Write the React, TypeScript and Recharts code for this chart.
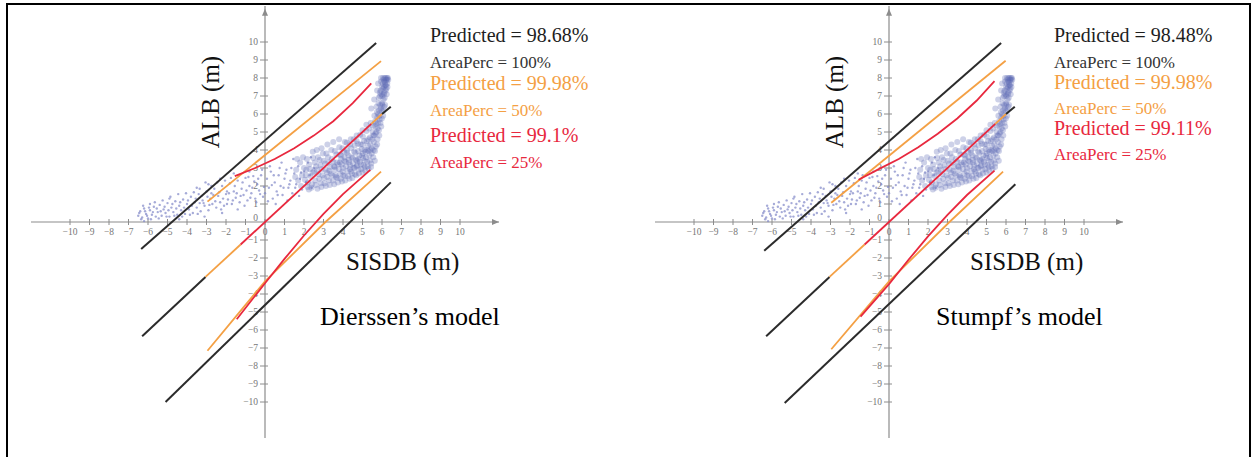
import React from "react"
import { ScatterChart, Scatter, XAxis, YAxis, ReferenceLine } from "recharts"

type P = [number, number]

// ── axis ticks ────────────────────────────────────────────────────────────────
const xTicks = [-10, -9, -8, -7, -6, -5, -4, -3, -2, -1, 0, 1, 2, 3, 4, 5, 6, 7, 8, 9, 10]
const yTicks = [10, 9, 8, 7, 6, 5, 4, 3, 2, 1, 0, -1, -2, -3, -4, -5, -6, -7, -8, -9, -10]

// ── point cloud (SISDB vs ALB) ───────────────────────────────────────────────
const cloudTail: P[] = [
  [-6.5, 0.35], [-6.4, 0.6], [-6.3, 0.25], [-6.2, 0.75], [-6.1, 0.45], [-6.0, 0.2], [-5.9, 0.65], [-5.8, 0.4],
  [-5.7, 0.85], [-5.6, 0.3], [-5.5, 0.55], [-5.4, 0.95], [-5.3, 0.35], [-5.2, 0.7], [-5.1, 0.5], [-5.0, 1.05],
  [-4.9, 0.3], [-4.8, 0.8], [-4.7, 0.55], [-4.6, 1.15], [-4.5, 0.4], [-4.4, 0.9], [-4.3, 0.65], [-4.2, 1.25],
  [-4.1, 0.45], [-4.0, 1.0], [-3.9, 0.7], [-3.8, 1.4], [-3.7, 0.5], [-3.6, 1.1], [-3.5, 0.8], [-3.4, 1.55],
  [-3.3, 0.6], [-3.2, 1.2], [-3.1, 0.9], [-3.0, 1.7], [-2.9, 0.65], [-2.8, 1.3], [-2.7, 1.0], [-2.6, 1.85],
  [-2.5, 0.8], [-2.4, 1.45], [-2.3, 1.1], [-2.2, 2.0], [-2.1, 0.9], [-2.0, 1.55], [-1.9, 1.25], [-1.8, 2.15],
  [-1.7, 1.0], [-1.6, 1.7], [-1.5, 1.35], [-1.4, 2.3], [-1.3, 1.1], [-1.2, 1.85], [-1.1, 1.5], [-1.0, 2.45],
  [-0.9, 1.2], [-0.8, 2.0], [-0.7, 1.6], [-0.6, 2.55], [-0.5, 1.3], [-0.4, 2.1], [-0.3, 1.75], [-0.2, 2.6],
  [-0.1, 1.4], [-5.9, 1.0], [-4.9, 1.3], [-3.5, 1.9], [-2.9, 2.1], [-2.3, 2.4], [-1.6, 2.7], [-0.8, 2.8],
  [-6.2, 0.05], [-4.4, 0.15], [-3.1, 0.3], [-2.2, 0.5], [-1.4, 0.7], [-3.35, 1.05], [-2.75, 1.6], [-1.95, 1.7],
  [-1.25, 1.45], [-0.65, 1.9], [0.0, 1.6], [0.1, 2.4], [0.2, 1.9], [0.3, 2.8], [0.4, 1.3], [0.5, 2.2],
  [0.6, 1.7], [0.7, 2.6], [0.8, 2.0], [0.9, 1.5], [1.0, 2.4], [1.1, 2.9], [1.2, 1.9], [1.3, 2.3],
  [1.4, 1.6], [1.5, 2.7], [1.6, 2.1], [1.7, 3.1], [1.8, 2.4], [1.9, 1.8], [2.0, 2.8], [2.1, 2.2],
  [2.2, 3.3], [2.3, 2.6], [2.4, 1.9], [2.5, 3.0], [0.25, 3.1], [0.85, 3.3], [1.45, 3.5], [0.55, 1.0],
  [1.15, 1.2], [1.75, 1.45], [2.35, 3.6],
  [-6.45, 0.5], [-6.35, 0.15], [-6.25, 0.9], [-6.15, 0.6], [-6.05, 0.35], [-5.95, 0.8], [-5.85, 0.15], [-5.75, 0.55],
  [-5.65, 1.1], [-5.55, 0.75], [-5.45, 0.2], [-5.35, 0.6], [-5.25, 1.2], [-5.15, 0.85], [-5.05, 0.3], [-4.95, 0.65],
  [-4.85, 1.4], [-4.75, 1.0], [-4.65, 0.35], [-4.55, 0.75], [-4.45, 1.55], [-4.35, 1.1], [-4.25, 0.3], [-4.15, 0.8],
  [-4.05, 1.6], [-3.95, 1.2], [-3.85, 0.4], [-3.75, 0.9], [-3.65, 1.65], [-3.55, 1.3], [-3.45, 0.45], [-3.35, 1.85],
  [-3.25, 1.45], [-3.15, 1.05], [-3.05, 2.2], [-2.95, 1.4], [-2.85, 0.95], [-2.75, 2.0], [-2.65, 1.5], [-2.55, 1.15],
  [-2.45, 2.2], [-2.35, 1.65], [-2.25, 0.7], [-2.15, 1.3], [-2.05, 2.3], [-1.95, 1.0], [-1.85, 1.6], [-1.75, 2.45],
  [-1.65, 1.2], [-1.55, 2.0], [-1.45, 1.6], [-1.35, 2.6], [-1.15, 2.2], [-1.05, 0.9], [-0.95, 1.75], [-0.85, 2.5],
  [-0.75, 1.35], [-0.55, 2.25], [-0.45, 1.1], [-0.35, 2.4], [-0.25, 1.55], [-0.15, 2.9], [-0.05, 1.95], [0.15, 1.15],
  [0.35, 2.05], [0.45, 2.6], [0.65, 1.5], [0.75, 3.0], [0.95, 1.9], [1.05, 2.7], [1.25, 2.1], [1.35, 3.0],
  [1.55, 1.9], [1.85, 2.75],
]

const cloudCore: P[] = [
  [2.05, 2.35], [2.12, 2.9], [2.18, 1.95], [2.26, 3.2], [2.33, 2.55], [2.41, 2.1], [2.47, 3.55], [2.52, 2.8],
  [2.58, 2.3], [2.63, 3.1], [2.69, 1.85], [2.74, 2.65], [2.8, 3.45], [2.86, 2.15], [2.91, 2.95], [2.97, 3.8],
  [3.03, 2.45], [3.08, 3.25], [3.12, 2.0], [3.18, 2.75], [3.23, 3.6], [3.29, 2.3], [3.34, 3.05], [3.4, 4.0],
  [3.45, 2.6], [3.5, 3.35], [3.55, 2.1], [3.6, 2.9], [3.66, 3.75], [3.71, 2.45], [3.76, 3.2], [3.81, 4.15],
  [3.86, 2.7], [3.9, 3.5], [3.95, 2.25], [4.0, 3.0], [4.05, 3.9], [4.1, 2.55], [4.14, 3.35], [4.19, 4.4],
  [4.24, 2.85], [4.28, 3.7], [4.33, 2.4], [4.37, 3.15], [4.42, 4.1], [4.46, 2.7], [4.5, 3.55], [4.55, 4.6],
  [4.59, 3.0], [4.63, 3.85], [4.68, 2.6], [4.72, 3.4], [4.76, 4.35], [4.8, 2.9], [4.84, 3.7], [4.88, 4.85],
  [4.92, 3.2], [4.96, 4.05], [5.0, 2.75], [5.04, 3.55], [5.08, 4.5], [5.12, 3.05], [5.16, 3.9], [5.2, 5.05],
  [5.24, 3.35], [5.28, 4.25], [5.31, 2.95], [5.35, 3.7], [5.38, 4.7], [5.42, 5.5], [5.45, 3.25], [5.48, 4.1],
  [5.52, 5.0], [5.55, 3.6], [5.58, 4.45], [5.61, 5.9], [5.64, 3.95], [5.67, 4.9], [5.7, 5.45], [5.72, 6.4],
  [5.75, 4.3], [5.78, 5.2], [5.8, 6.0], [5.83, 6.9], [5.86, 4.8], [5.88, 5.7], [5.91, 6.5], [5.93, 7.3],
  [5.96, 5.3], [5.98, 6.2], [6.01, 7.0], [6.03, 7.7], [6.06, 5.9], [6.08, 6.8], [6.1, 7.5], [6.13, 8.0],
  [6.16, 6.5], [6.18, 7.3], [6.21, 7.9], [6.24, 7.1], [6.27, 7.7], [6.3, 8.0], [6.05, 8.0], [6.2, 7.6],
  [5.95, 7.8], [6.12, 7.2], [5.9, 7.0], [6.0, 6.6], [5.85, 6.2], [5.76, 5.8], [5.66, 5.3], [5.55, 4.8],
  [3.3, 2.85], [3.57, 3.05], [3.84, 3.3], [4.08, 3.6], [4.3, 3.45], [4.52, 3.25], [4.78, 3.5], [5.02, 3.8],
  [5.25, 4.0], [3.62, 2.6], [3.98, 2.8], [4.35, 2.95], [4.7, 3.1], [5.1, 3.4], [5.4, 4.0], [4.2, 4.0],
  [4.6, 4.25], [5.0, 4.3], [5.3, 4.6], [3.9, 3.7],
  [2.1, 2.6], [2.2, 2.2], [2.3, 2.95], [2.38, 1.9], [2.44, 2.75], [2.55, 3.3], [2.6, 2.05], [2.66, 2.9],
  [2.72, 3.6], [2.78, 2.4], [2.84, 3.15], [2.89, 1.95], [2.95, 2.6], [3.0, 3.4], [3.05, 2.15], [3.1, 2.9],
  [3.15, 3.8], [3.2, 2.5], [3.26, 3.3], [3.32, 2.05], [3.37, 2.7], [3.43, 3.5], [3.48, 2.3], [3.53, 3.1],
  [3.58, 3.95], [3.64, 2.5], [3.69, 3.3], [3.74, 2.2], [3.79, 2.95], [3.83, 3.75], [3.88, 2.4], [3.93, 3.2],
  [3.97, 4.1], [4.02, 2.6], [4.07, 3.4], [4.12, 2.3], [4.16, 3.1], [4.21, 3.85], [4.26, 2.55], [4.31, 3.3],
  [4.36, 4.3], [4.4, 2.8], [4.44, 3.6], [4.48, 2.45], [4.53, 3.0], [4.57, 3.9], [4.61, 2.65], [4.66, 3.45],
  [4.7, 4.5], [4.74, 3.15], [4.78, 3.95], [4.82, 2.7], [4.86, 3.35], [4.9, 4.3], [4.94, 2.95], [4.98, 3.7],
  [5.02, 4.75], [5.06, 3.15], [5.1, 4.0], [5.14, 2.85], [5.18, 3.6], [5.22, 4.5], [5.26, 3.1], [5.3, 3.95],
  [5.33, 5.2], [5.37, 3.4], [5.4, 4.3], [5.44, 3.05], [5.47, 3.8], [5.5, 4.6], [5.53, 5.35], [5.57, 4.0],
  [5.6, 4.8], [5.63, 3.4], [5.65, 5.6], [5.68, 4.2], [5.71, 5.0], [5.74, 6.1], [5.77, 4.6], [5.79, 5.5],
  [5.82, 6.6], [5.84, 5.1], [5.87, 5.9], [5.89, 7.2], [5.92, 5.5], [5.94, 6.3], [5.97, 7.1], [5.99, 5.75],
  [6.02, 6.5], [6.04, 7.4], [6.07, 6.2], [6.09, 7.1], [6.11, 7.8], [6.14, 6.9], [6.17, 7.6], [6.19, 8.0],
  [6.22, 7.4], [6.25, 7.9], [6.28, 7.5], [6.32, 7.9],
  [1.6, 2.9], [1.7, 2.3], [1.8, 3.3], [1.9, 2.6], [2.0, 3.0], [1.55, 2.5], [1.65, 3.5], [1.85, 2.0],
  [1.95, 3.6], [2.15, 3.5], [2.25, 1.8], [2.45, 3.9], [2.65, 4.0], [2.9, 4.1], [3.2, 4.3], [3.5, 4.45],
  [3.8, 4.6], [4.1, 4.45], [4.4, 4.6], [4.7, 4.8], [5.0, 5.1], [5.2, 5.4], [5.45, 6.3], [5.6, 6.8],
  [5.75, 7.3], [5.8, 7.7], [5.95, 8.0], [6.08, 7.9], [6.15, 7.75], [6.26, 8.0], [6.0, 7.5], [6.11, 6.4],
]

// ── 1:1 line, coloured by band ────────────────────────────────────────────────
const diagBlackLow: P[] = [[-6.3, -6.35], [-3.05, -3.05]]
const diagOrangeLow: P[] = [[-3.05, -3.05], [-1.25, -1.25]]
const diagRed: P[] = [[-1.25, -1.25], [5.45, 5.45]]
const diagOrangeHigh: P[] = [[5.45, 5.45], [6.0, 6.0]]
const diagBlackHigh: P[] = [[6.0, 6.0], [6.45, 6.4]]

// ── Dierssen's model bands ───────────────────────────────────────────────────
const dBlackUpper: P[] = [[-6.35, -1.5], [5.7, 9.95]]
const dBlackLower: P[] = [[-5.1, -10.0], [6.45, 2.2]]
const dOrangeUpper: P[] = [[-2.95, 1.13], [5.95, 8.94]]
const dOrangeLower: P[] = [[-2.95, -7.15], [0, -3.3], [3.1, 0], [5.95, 2.8]]
const dRedUpper: P[] = [[-1.55, 2.55], [-0.5, 3.0], [0.5, 3.5], [1.5, 4.1], [2.5, 4.8], [3.5, 5.6], [4.5, 6.6], [5.45, 7.7]]
const dRedLower: P[] = [[-1.45, -5.4], [0, -3.4], [1, -2.05], [2, -0.75], [3, 0.45], [4, 1.55], [5.4, 2.9]]

// ── Stumpf's model bands ─────────────────────────────────────────────────────
const sBlackUpper: P[] = [[-6.4, -1.6], [5.75, 9.95]]
const sBlackLower: P[] = [[-5.35, -10.05], [6.48, 2.1]]
const sOrangeUpper: P[] = [[-2.96, 1.07], [5.98, 8.96]]
const sOrangeLower: P[] = [[-2.96, -7.07], [0, -3.3], [3.1, 0], [5.85, 2.8]]
const sRedUpper: P[] = [[-1.56, 2.35], [-0.5, 2.95], [0.5, 3.5], [1.5, 4.15], [2.5, 4.9], [3.5, 5.75], [4.5, 6.75], [5.41, 7.83]]
const sRedLower: P[] = [[-1.46, -5.26], [0, -3.45], [1, -2.1], [2, -0.8], [3, 0.4], [4, 1.5], [5.41, 2.85]]

const dStats = ["Predicted = 98.68%", "AreaPerc = 100%", "Predicted = 99.98%", "AreaPerc = 50%", "Predicted = 99.1%", "AreaPerc = 25%"]
const sStats = ["Predicted = 98.48%", "AreaPerc = 100%", "Predicted = 99.98%", "AreaPerc = 50%", "Predicted = 99.11%", "AreaPerc = 25%"]

const BLACK = "#2b2b2b"
const ORANGE = "#F4A044"
const RED = "#E8283E"
const SERIF = "'Liberation Serif', 'Times New Roman', serif"
const statColors = ["#1e1e1e", "#333", ORANGE, ORANGE, RED, RED]

const pts = (a: P[]) => a.map(([x, y]) => ({ x, y }))
const fmt = (t: number) => (t < 0 ? "\u2212" + Math.abs(t) : String(t))
const noDot = () => <g />

interface PanelProps {
  left: number
  stats: string[]
  statTops: number[]
  model: string
  modelLeft: number
  lines: { data: P[]; color: string; w: number }[]
}

function Panel({ left, stats, statTops, model, modelLeft, lines }: PanelProps) {
  return (
    <div style={{ position: "absolute", left, top: 0, width: 626, height: 457 }}>
      <div style={{ position: "absolute", left: 31, top: 6 }}>
        <ScatterChart width={468} height={432} margin={{ top: 0, right: 0, bottom: 0, left: 0 }}>
          <XAxis hide type="number" dataKey="x" domain={[-12, 12]} allowDataOverflow />
          <YAxis hide type="number" dataKey="y" domain={[-12, 12]} allowDataOverflow />
          <ReferenceLine y={0} stroke="#8c8c8c" strokeWidth={1.2} />
          <ReferenceLine x={0} stroke="#8c8c8c" strokeWidth={1.2} />
          {/* ticks x */}
          <Scatter isAnimationActive={false} data={xTicks.map((t) => ({ x: t, y: 0 }))}
            shape={(p: any) => (
              <g>
                <line x1={p.cx} x2={p.cx} y1={p.cy - 3} y2={p.cy + 3} stroke="#8c8c8c" />
                <text x={p.cx} y={p.cy + 10} textAnchor="middle" dominantBaseline="central" fontSize={9.5} fill="#777" fontFamily={SERIF}>{fmt(p.payload.x)}</text>
              </g>
            )} />
          {/* ticks y */}
          <Scatter isAnimationActive={false} data={yTicks.map((t) => ({ x: 0, y: t }))}
            shape={(p: any) => (
              <g>
                {p.payload.y !== 0 && <line x1={p.cx - 5} x2={p.cx + 3} y1={p.cy} y2={p.cy} stroke="#8c8c8c" />}
                <text x={p.cx - 7} y={p.payload.y === 0 ? p.cy - 4 : p.cy} textAnchor="end" dominantBaseline="central" fontSize={9.5} fill="#777" fontFamily={SERIF}>{fmt(p.payload.y)}</text>
              </g>
            )} />
          {/* arrows */}
          <Scatter isAnimationActive={false} data={[{ x: 12, y: 0 }]}
            shape={(p: any) => <polygon points={`${p.cx},${p.cy} ${p.cx - 7},${p.cy - 3} ${p.cx - 7},${p.cy + 3}`} fill="#8c8c8c" />} />
          <Scatter isAnimationActive={false} data={[{ x: 0, y: 11.85 }]}
            shape={(p: any) => <polygon points={`${p.cx},${p.cy} ${p.cx - 3},${p.cy + 7} ${p.cx + 3},${p.cy + 7}`} fill="#8c8c8c" />} />
          {/* cloud */}
          <Scatter isAnimationActive={false} data={pts(cloudTail)}
            shape={(p: any) => <circle cx={p.cx} cy={p.cy} r={1.2} fill="#8088c8" fillOpacity={0.7} />} />
          <Scatter isAnimationActive={false} data={pts(cloudCore)}
            shape={(p: any) => <circle cx={p.cx} cy={p.cy} r={3} fill="#5a66b2" fillOpacity={0.3} />} />
          {/* bands */}
          {lines.map((l, i) => (
            <Scatter key={i} isAnimationActive={false} data={pts(l.data)} shape={noDot}
              line={{ stroke: l.color, strokeWidth: l.w }} lineType="joint" />
          ))}
        </ScatterChart>
      </div>

      {stats.map((s, i) => {
        const big = i % 2 === 0
        const f = big ? 20 : 17
        return (
          <div key={i} style={{ position: "absolute", left: 430, top: statTops[i] - f / 2, fontFamily: SERIF, fontSize: f, lineHeight: `${f}px`, color: statColors[i], whiteSpace: "nowrap" }}>{s}</div>
        )
      })}

      <div style={{ position: "absolute", left: 211 - 60, top: 102 - 13, width: 120, height: 26, textAlign: "center", transform: "rotate(-90deg)", fontFamily: SERIF, fontSize: 25, lineHeight: "26px", color: "#111", whiteSpace: "nowrap" }}>ALB (m)</div>
      <div style={{ position: "absolute", left: 346, top: 262 - 13, fontFamily: SERIF, fontSize: 25, lineHeight: "26px", color: "#111", whiteSpace: "nowrap" }}>SISDB (m)</div>
      <div style={{ position: "absolute", left: modelLeft, top: 317 - 13, fontFamily: SERIF, fontSize: 26, lineHeight: "26px", color: "#000", whiteSpace: "nowrap" }}>{model}</div>
    </div>
  )
}

const diag = [
  { data: diagBlackLow, color: BLACK, w: 2 },
  { data: diagOrangeLow, color: ORANGE, w: 1.8 },
  { data: diagRed, color: RED, w: 1.8 },
  { data: diagOrangeHigh, color: ORANGE, w: 1.8 },
  { data: diagBlackHigh, color: BLACK, w: 2 },
]

export default function App() {
  const dLines = [
    { data: dBlackUpper, color: BLACK, w: 2 },
    { data: dBlackLower, color: BLACK, w: 2 },
    { data: dOrangeUpper, color: ORANGE, w: 1.8 },
    { data: dOrangeLower, color: ORANGE, w: 1.8 },
    { data: dRedUpper, color: RED, w: 1.8 },
    { data: dRedLower, color: RED, w: 1.8 },
    ...diag,
  ]
  const sLines = [
    { data: sBlackUpper, color: BLACK, w: 2 },
    { data: sBlackLower, color: BLACK, w: 2 },
    { data: sOrangeUpper, color: ORANGE, w: 1.8 },
    { data: sOrangeLower, color: ORANGE, w: 1.8 },
    { data: sRedUpper, color: RED, w: 1.8 },
    { data: sRedLower, color: RED, w: 1.8 },
    ...diag,
  ]
  return (
    <div style={{ position: "absolute", left: 0, top: 0, width: 1252, height: 457, background: "#fff", overflow: "hidden" }}>
      <div style={{ position: "absolute", left: 6, top: 3, width: 1241, height: 460, borderTop: "2px solid #000", borderLeft: "2px solid #000", borderRight: "2px solid #000" }} />
      <Panel left={0} stats={dStats} statTops={[35, 62, 83, 110, 135, 162]} model={"Dierssen\u2019s model"} modelLeft={320} lines={dLines} />
      <Panel left={624} stats={sStats} statTops={[35, 62, 82, 108, 128, 154]} model={"Stumpf\u2019s model"} modelLeft={312} lines={sLines} />
    </div>
  )
}
